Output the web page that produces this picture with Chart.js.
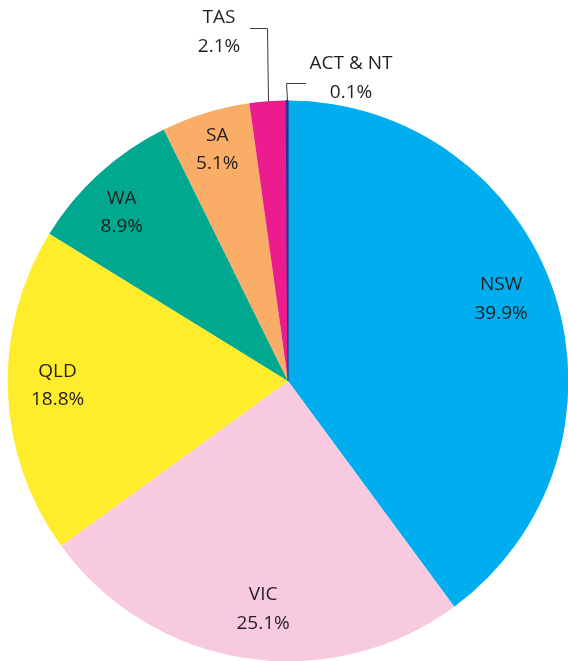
<!DOCTYPE html>
<html>
<head>
<meta charset="utf-8">
<script src="https://cdn.jsdelivr.net/npm/chart.js@4/dist/chart.umd.min.js"></script>
<style>
  html, body { margin: 0; padding: 0; background: #ffffff; overflow: hidden; }
  #wrap { position: absolute; left: 0; top: 0; width: 576px; height: 700px; }
</style>
</head>
<body>
<div id="wrap"><canvas id="c"></canvas></div>
<script>
// ---- data ----
const categories = ["NSW", "VIC", "QLD", "WA", "SA", "TAS", "ACT & NT"];
const shares = [39.9, 25.1, 18.8, 8.9, 5.1, 2.1, 0.1];
const percentLabels = ["39.9%", "25.1%", "18.8%", "8.9%", "5.1%", "2.1%", "0.1%"];
const sliceColors = ["#00AEEF", "#F8CADF", "#FFED2B", "#00A88F", "#F9AD66", "#EC1C8E", "#2E3192"];

// label placement: inside labels (radius fraction, angle shift deg); outside labels use leader lines
const inside = {
  0: { r: 0.814, da: -2.8 },
  1: { r: 0.818, da: -2.6 },
  2: { r: 0.822, da: 1.0 },
  3: { r: 0.844, da: -2.3 },
  4: { r: 0.863, da: 0.1 }
};
const outside = {
  5: { elbowY: 28, endX: 250, textX: 219, textY: 32 },
  6: { elbowY: 83, endX: 306, textX: 351, textY: 78 }
};

const labelPlugin = {
  id: 'sliceLabels',
  afterDatasetsDraw(chart) {
    const ctx = chart.ctx;
    const meta = chart.getDatasetMeta(0);
    ctx.save();
    ctx.fillStyle = '#231F20';
    ctx.font = '19px "Open Sans", "Noto Sans", sans-serif';
    ctx.textAlign = 'center';
    ctx.textBaseline = 'middle';
    const lineGap = 28.5;
    meta.data.forEach((arc, i) => {
      const p = arc.getProps(['x', 'y', 'startAngle', 'endAngle', 'outerRadius'], true);
      const mid = (p.startAngle + p.endAngle) / 2;
      if (inside[i]) {
        const a = mid + inside[i].da * Math.PI / 180;
        const r = p.outerRadius * inside[i].r;
        const cx = p.x + Math.cos(a) * r;
        const cy = p.y + Math.sin(a) * r;
        ctx.fillText(categories[i], cx, cy - lineGap / 2);
        ctx.fillText(percentLabels[i], cx, cy + lineGap / 2);
      } else if (outside[i]) {
        const o = outside[i];
        const ex = p.x + Math.cos(mid) * p.outerRadius;
        const ey = p.y + Math.sin(mid) * p.outerRadius;
        ctx.strokeStyle = '#3a3a3a';
        ctx.lineWidth = 1;
        ctx.beginPath();
        ctx.moveTo(Math.round(ex) + 0.5, ey);
        ctx.lineTo(Math.round(ex) - 0.5, o.elbowY + 0.5);
        ctx.lineTo(o.endX, o.elbowY + 0.5);
        ctx.stroke();
        ctx.fillText(categories[i], o.textX, o.textY - lineGap / 2);
        ctx.fillText(percentLabels[i], o.textX, o.textY + lineGap / 2);
      }
    });
    ctx.restore();
  }
};

new Chart(document.getElementById('c'), {
  type: 'pie',
  data: {
    labels: categories,
    datasets: [{
      data: shares,
      backgroundColor: sliceColors,
      borderColor: sliceColors,
      borderWidth: [0, 0, 0, 0, 0, 0, 1.2]
    }]
  },
  options: {
    responsive: true,
    maintainAspectRatio: false,
    animation: false,
    layout: { padding: { top: 100, left: 7, right: 7, bottom: 38 } },
    plugins: {
      legend: { display: false },
      tooltip: { enabled: false }
    }
  },
  plugins: [labelPlugin]
});
</script>
</body>
</html>
